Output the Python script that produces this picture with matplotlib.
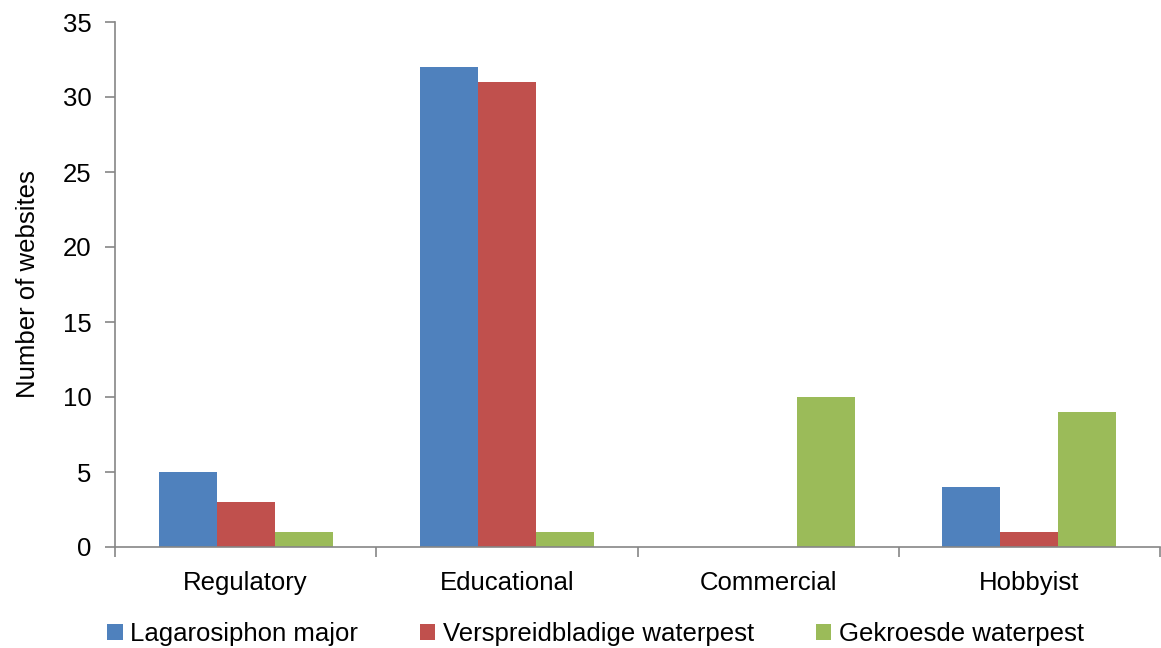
import numpy as np
import matplotlib
matplotlib.use("Agg")
import matplotlib.pyplot as plt

plt.rcParams['font.family'] = ['Liberation Sans', 'DejaVu Sans']

categories = ["Regulatory", "Educational", "Commercial", "Hobbyist"]
series_names = ["Lagarosiphon major", "Verspreidbladige waterpest", "Gekroesde waterpest"]
lagarosiphon = [5, 32, 0, 4]
verspreid = [3, 31, 0, 1]
gekroesd = [1, 1, 10, 9]
colors = ["#4F81BD", "#C0504D", "#9BBB59"]

FS = 18.5
fig = plt.figure(figsize=(11.61, 6.48), dpi=100)
# axes box in pixels: x 115..1160, y 22..547
ax = fig.add_axes([115 / 1161, 1 - 547 / 648, 1045 / 1161, 525 / 648])

x = np.arange(len(categories))
w = 0.222
for i, (vals, name, c) in enumerate(zip([lagarosiphon, verspreid, gekroesd], series_names, colors)):
    ax.bar(x + (i - 1) * w, vals, width=w, color=c, label=name)

ax.set_xlim(-0.5, len(categories) - 0.5)
ax.set_ylim(0, 35)
ax.set_yticks(range(0, 36, 5))
ax.set_xticks(x)
ax.set_xticklabels(categories, fontsize=FS)
ax.tick_params(axis='x', length=0, pad=17)
ax.set_xticks(np.arange(-0.5, len(categories)), minor=True)
ax.tick_params(axis='x', which='minor', length=7, width=1.2, color='#868686', direction='out')
ax.tick_params(axis='y', labelsize=FS, length=7, width=1.2, color='#868686', direction='out', pad=10)
for s in ['top', 'right']:
    ax.spines[s].set_visible(False)
for s in ['left', 'bottom']:
    ax.spines[s].set_color('#868686')
    ax.spines[s].set_linewidth(1.2)
ax.set_ylabel("Number of websites", fontsize=FS, labelpad=16)

ax.legend(loc='center', bbox_to_anchor=(0.46, -0.166), ncol=3, frameon=False,
          fontsize=FS, handlelength=0.6, handleheight=0.6, handletextpad=0.3,
          columnspacing=2.4, borderaxespad=0, borderpad=0)

fig.savefig("out.png", dpi=100)
